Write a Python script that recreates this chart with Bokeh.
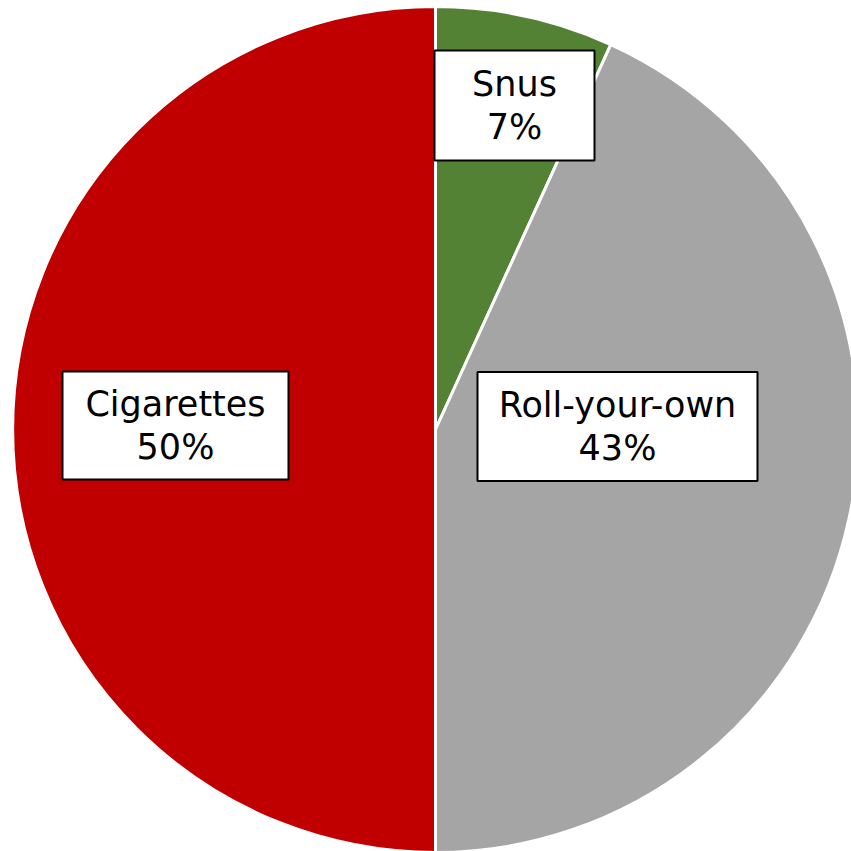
import math
from bokeh.plotting import figure
from bokeh.models import ColumnDataSource
from bokeh.embed import file_html
from bokeh.resources import INLINE
from bokeh.core.properties import value

# ---- data ----
categories = ["Snus", "Roll-your-own", "Cigarettes"]
shares = [6.8, 43.2, 50.0]
pct_labels = ["7%", "43%", "50%"]
colors = ["#548235", "#A5A5A5", "#C00000"]

# ---- layout (pixels) ----
W = H = 851
CX, CY, R = 435, 429, 423
box_cx = [514, 617, 175]
box_cy = [105, 426, 425]
box_w = [160, 280, 226]
box_h = [110, 109, 108]

p = figure(width=W, height=H, x_range=(0, W), y_range=(0, H),
           output_backend="svg", toolbar_location=None, min_border=0)
p.axis.visible = False
p.grid.visible = False
p.outline_line_color = None
p.background_fill_color = "white"

total = sum(shares)
starts, ends = [], []
a = math.pi / 2
for s in shares:
    b = a - s / total * 2 * math.pi
    starts.append(b)
    ends.append(a)
    a = b

src = ColumnDataSource(dict(cat=categories, start=starts, end=ends, color=colors))
p.wedge(x=CX, y=H - CY, radius=R, start_angle="start", end_angle="end",
        fill_color="color", line_color="white", line_width=3, source=src)

lab = ColumnDataSource(dict(
    x=box_cx, y=[H - v for v in box_cy], w=box_w, h=box_h,
    text=[f"{c}\n{t}" for c, t in zip(categories, pct_labels)]))
p.rect(x="x", y="y", width="w", height="h", fill_color="white",
       line_color="black", line_width=2, source=lab)
p.text(x="x", y="y", text="text", text_align="center", text_baseline="middle",
       text_font=value("DejaVu Sans"), text_font_size="35px",
       text_line_height=1.08, text_color="black", source=lab)

open("out.html", "w").write(file_html(p, INLINE))
